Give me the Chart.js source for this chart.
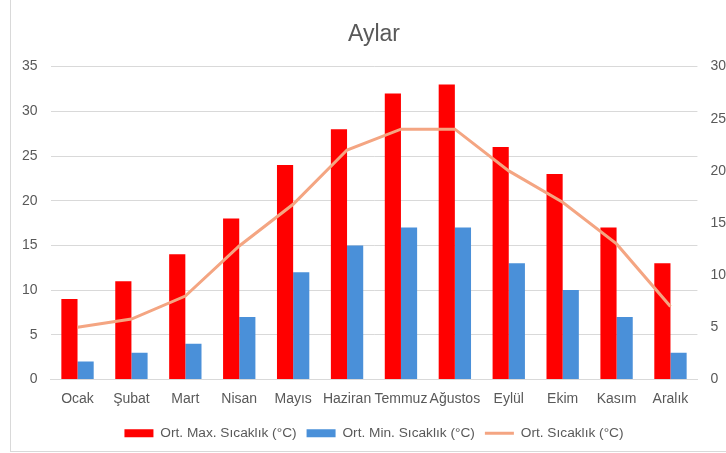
<!DOCTYPE html>
<html>
<head>
<meta charset="utf-8">
<script src="https://cdn.jsdelivr.net/npm/chart.js@4.4.1/dist/chart.umd.min.js"></script>
<style>
  html, body { margin: 0; padding: 0; background: #fff; overflow: hidden; }
  #wrap { position: relative; width: 740px; height: 453px; }
  #frame { position: absolute; left: 10px; top: 0; width: 730px; height: 452px; border-left: 1px solid #d9d9d9; border-bottom: 1px solid #d9d9d9; box-sizing: border-box; pointer-events: none; }
</style>
</head>
<body>
<div id="wrap">
  <canvas id="myChart" width="740" height="453"></canvas>
  <div id="frame"></div>
</div>
<script>
// Chart data
const months = ["Ocak", "Şubat", "Mart", "Nisan", "Mayıs", "Haziran", "Temmuz", "Ağustos", "Eylül", "Ekim", "Kasım", "Aralık"];
const maxTemps = [9, 11, 14, 18, 24, 28, 32, 33, 26, 23, 17, 13];
const minTemps = [2, 3, 4, 7, 12, 15, 17, 17, 13, 10, 7, 3];
const avgTemps = [5, 5.8, 8, 12.8, 16.8, 22, 24, 24, 20, 17, 13, 7];

Chart.defaults.font.family = '"Liberation Sans", Arial, sans-serif';
Chart.defaults.font.size = 14;
Chart.defaults.color = '#595959';

const ctx = document.getElementById("myChart");
new Chart(ctx, {
  data: {
    labels: months,
    datasets: [
      {
        type: 'bar',
        label: "Ort. Max. Sıcaklık (°C)",
        data: maxTemps,
        yAxisID: 'y',
        backgroundColor: "#FF0000",
        pointStyle: 'rect',
        barPercentage: 1,
        categoryPercentage: 0.6,
        order: 1
      },
      {
        type: 'bar',
        label: "Ort. Min. Sıcaklık (°C)",
        data: minTemps,
        yAxisID: 'y',
        backgroundColor: "#4A90D9",
        pointStyle: 'rect',
        barPercentage: 1,
        categoryPercentage: 0.6,
        order: 2
      },
      {
        type: 'line',
        label: "Ort. Sıcaklık (°C)",
        data: avgTemps,
        yAxisID: 'y1',
        borderColor: "#F4A582",
        backgroundColor: "#F4A582",
        borderWidth: 3,
        pointRadius: 0,
        pointStyle: 'line',
        tension: 0,
        order: 0
      }
    ]
  },
  options: {
    responsive: false,
    animation: false,
    layout: {
      padding: { top: 10, right: 1, bottom: 3, left: 9 }
    },
    scales: {
      x: {
        grid: { display: false },
        border: { color: '#d9d9d9' },
        ticks: { padding: 3, maxRotation: 0, autoSkip: false },
        // extra room between month labels and legend
        afterFit: (scale) => { scale.height += 6; }
      },
      y: {
        position: 'left',
        min: 0,
        max: 35,
        ticks: { stepSize: 5, padding: 13 },
        grid: { color: '#d9d9d9', drawTicks: false },
        border: { display: false }
      },
      y1: {
        position: 'right',
        min: 0,
        max: 30,
        ticks: { stepSize: 5, padding: 13 },
        grid: { display: false, drawTicks: false },
        border: { display: false }
      }
    },
    plugins: {
      title: {
        display: true,
        text: "Aylar",
        color: '#595959',
        font: { size: 23, weight: 'normal' },
        padding: { top: 11, bottom: 18 }
      },
      legend: {
        position: 'bottom',
        labels: {
          usePointStyle: true,
          pointStyleWidth: 29,
          boxHeight: 8,
          padding: 10,
          color: '#595959',
          font: { size: 13.7 },
          sort: (a, b) => a.datasetIndex - b.datasetIndex
        }
      },
      tooltip: { enabled: false }
    }
  }
});
</script>
</body>
</html>
